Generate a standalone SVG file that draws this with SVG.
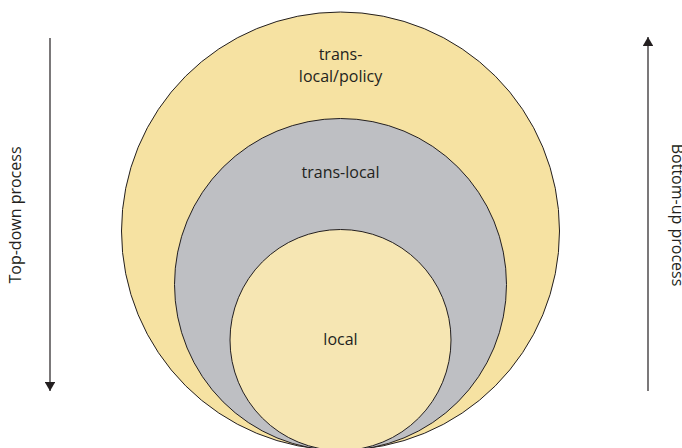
<svg xmlns="http://www.w3.org/2000/svg" width="682" height="448" viewBox="0 0 682 448">
  <style>
    .ring { stroke: #231F20; stroke-width: 1; }
    .lbl { font-family: "Open Sans", "Liberation Sans", sans-serif; font-size: 16px; fill: #231F20; text-anchor: middle; }
    .arrow { stroke: #231F20; stroke-width: 1.2; fill: none; marker-end: url(#head); }
  </style>
  <defs>
    <marker id="head" viewBox="0 0 9 10.6" refX="9" refY="5.3" markerWidth="9" markerHeight="10.6" markerUnits="userSpaceOnUse" orient="auto">
      <path d="M0,0 L9,5.3 L0,10.6 Z" fill="#231F20"/>
    </marker>
  </defs>
  <rect width="682" height="448" fill="#FFFFFF"/>
  <g id="translocal-policy">
    <circle class="ring" cx="340.5" cy="231" r="219" fill="#F6E2A2"/>
    <text class="lbl" x="340.5" y="60">trans-</text>
    <text class="lbl" x="340.5" y="82">local/policy</text>
  </g>
  <g id="translocal">
    <circle class="ring" cx="340.5" cy="284.5" r="166" fill="#BEBFC3"/>
    <text class="lbl" x="340.5" y="178">trans-local</text>
  </g>
  <g id="local">
    <circle class="ring" cx="340.5" cy="340" r="110.5" fill="#F6E6B3"/>
    <text class="lbl" x="340.5" y="345">local</text>
  </g>
  <g id="connectors">
    <line class="arrow" x1="50" y1="38" x2="50" y2="391"/>
    <line class="arrow" x1="648" y1="391" x2="648" y2="37"/>
  </g>
  <g id="top-down">
    <text class="lbl" transform="translate(20.5,215) rotate(-90)">Top-down process</text>
  </g>
  <g id="bottom-up">
    <text class="lbl" transform="translate(671.5,215) rotate(90)">Bottom-up process</text>
  </g>
</svg>
